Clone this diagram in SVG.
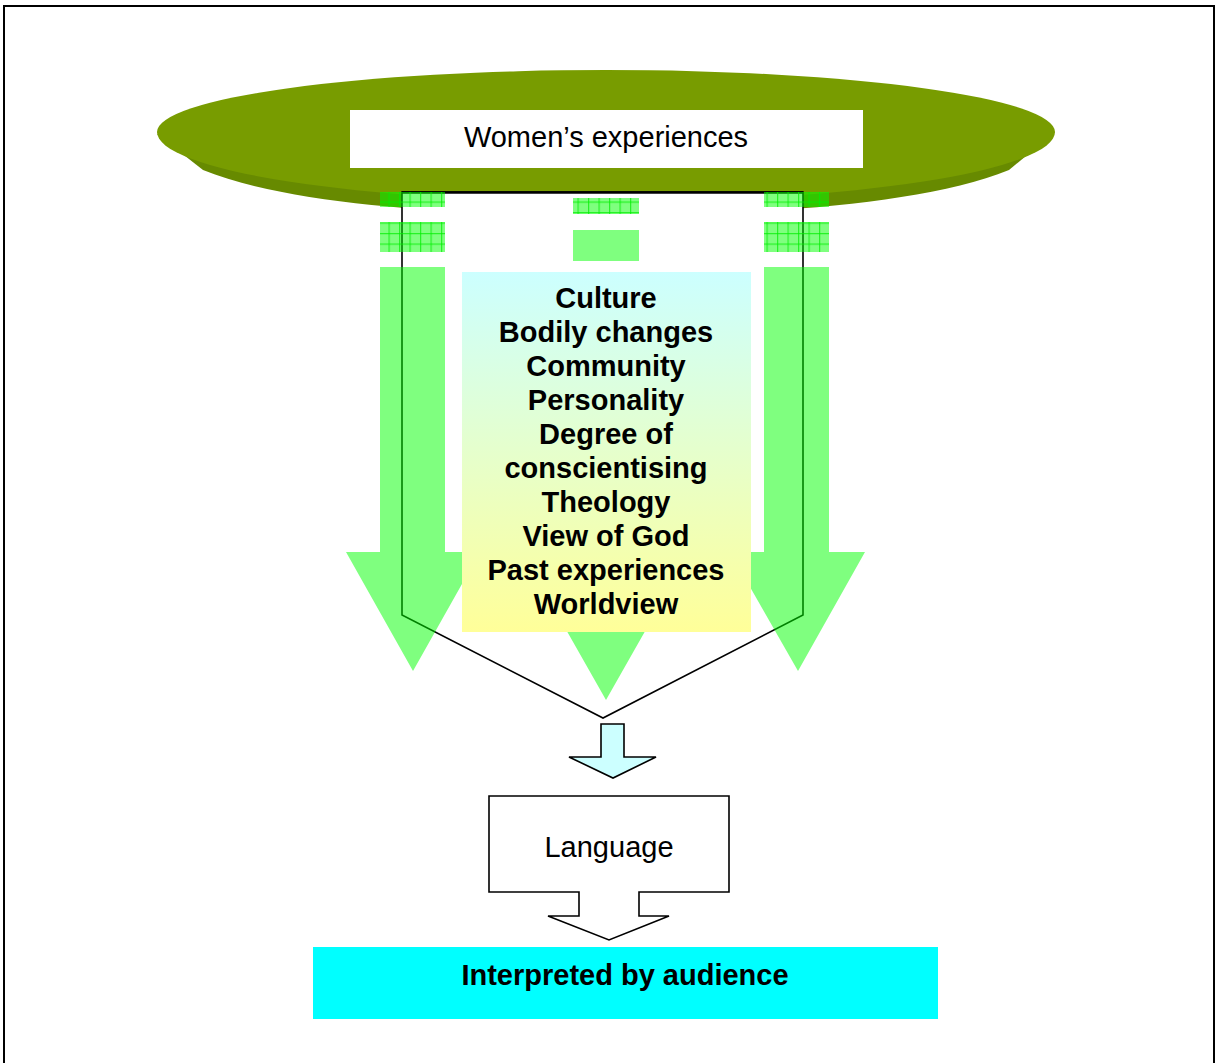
<svg xmlns="http://www.w3.org/2000/svg" width="1216" height="1063" viewBox="0 0 1216 1063">
  <style>
    .lbl { font-family: "Liberation Sans", Arial, sans-serif; font-size: 29px; fill: #000; text-anchor: middle; }
    .bold { font-weight: bold; }
    .outline { fill: none; stroke: #000; stroke-width: 1.6; stroke-linejoin: miter; }
    .arrowfill { fill: #00FF00; fill-opacity: 0.5; }
    .gridfill { fill: url(#grid); }
  </style>
  <defs>
    <pattern id="grid" patternUnits="userSpaceOnUse" x="0" y="2" width="10.5" height="10.5">
      <rect x="0" y="0" width="10.5" height="1.2" fill="#00EE00" fill-opacity="0.7"/>
      <rect x="0" y="0" width="1.2" height="10.5" fill="#00EE00" fill-opacity="0.7"/>
    </pattern>
    <linearGradient id="boxgrad" x1="0" y1="0" x2="0" y2="1">
      <stop offset="0" stop-color="#CCFFFF"/>
      <stop offset="1" stop-color="#FFFF99"/>
    </linearGradient>
  </defs>

  <rect x="0" y="0" width="1216" height="1063" fill="#FFFFFF"/>
  <path d="M4,1063 V6 H1214 V1063" fill="none" stroke="#000" stroke-width="2"/>

  <g id="womens-experiences">
    <path d="M157,134 L203,170 C290,205 450,215 606,215 C762,215 922,205 1009,170 L1055,132 Z" fill="#678A00"/>
    <path d="M157,132 A449,62 0 0 1 1055,132 A449,70 0 0 1 157,132 Z" fill="#789C00"/>
    <rect x="350" y="110" width="513" height="58" fill="#FFFFFF"/>
    <text class="lbl" x="606" y="147">Women’s experiences</text>
  </g>

  <g id="funnel">
    <polygon points="402,192 803,192 803,615 603,718 402,615" fill="#FFFFFF" stroke="#000" stroke-width="1.6"/>
    <line x1="402" y1="192.5" x2="803" y2="192.5" stroke="#000" stroke-width="2.4"/>
  </g>

  <g id="green-arrows">
    <g id="arrow-left">
      <rect class="arrowfill" x="380" y="192" width="65" height="15"/>
      <rect class="gridfill" x="380" y="192" width="65" height="15"/>
      <rect class="arrowfill" x="380" y="222" width="65" height="30"/>
      <rect class="gridfill" x="380" y="222" width="65" height="30"/>
      <polygon class="arrowfill" points="380,267 445,267 445,552 480,552 413,671 346,552 380,552"/>
    </g>
    <g id="arrow-middle">
      <rect class="arrowfill" x="573" y="198" width="66" height="16"/>
      <rect class="gridfill" x="573" y="198" width="66" height="16"/>
      <rect class="arrowfill" x="573" y="230" width="66" height="31"/>
      <polygon class="arrowfill" points="573,277 639,277 639,582 673,582 606,700 539,582 573,582"/>
    </g>
    <g id="arrow-right">
      <rect class="arrowfill" x="764" y="192" width="65" height="15"/>
      <rect class="gridfill" x="764" y="192" width="65" height="15"/>
      <rect class="arrowfill" x="764" y="222" width="65" height="30"/>
      <rect class="gridfill" x="764" y="222" width="65" height="30"/>
      <polygon class="arrowfill" points="764,267 829,267 829,552 865,552 798,671 730,552 764,552"/>
    </g>
  </g>

  <g id="factors">
    <rect x="462" y="272" width="289" height="360" fill="url(#boxgrad)"/>
    <text class="lbl bold" x="606" y="308">Culture</text>
    <text class="lbl bold" x="606" y="342">Bodily changes</text>
    <text class="lbl bold" x="606" y="376">Community</text>
    <text class="lbl bold" x="606" y="410">Personality</text>
    <text class="lbl bold" x="606" y="444">Degree of</text>
    <text class="lbl bold" x="606" y="478">conscientising</text>
    <text class="lbl bold" x="606" y="512">Theology</text>
    <text class="lbl bold" x="606" y="546">View of God</text>
    <text class="lbl bold" x="606" y="580">Past experiences</text>
    <text class="lbl bold" x="606" y="614">Worldview</text>
  </g>

  <g id="connectors">
    <polygon points="601,724 624,724 624,757 656,757 613,778 569,757 601,757" fill="#CCFFFF" stroke="#000" stroke-width="1.6" stroke-linejoin="miter"/>
  </g>

  <g id="language">
    <path d="M489,796 H729 V892 H639 V916 H669 L609,940 L548,916 H579 V892 H489 Z" fill="#FFFFFF" stroke="#000" stroke-width="1.6"/>
    <text class="lbl" x="609" y="857">Language</text>
  </g>

  <g id="audience">
    <rect x="313" y="947" width="625" height="72" fill="#00FFFF"/>
    <text class="lbl bold" x="625" y="985">Interpreted by audience</text>
  </g>
</svg>
